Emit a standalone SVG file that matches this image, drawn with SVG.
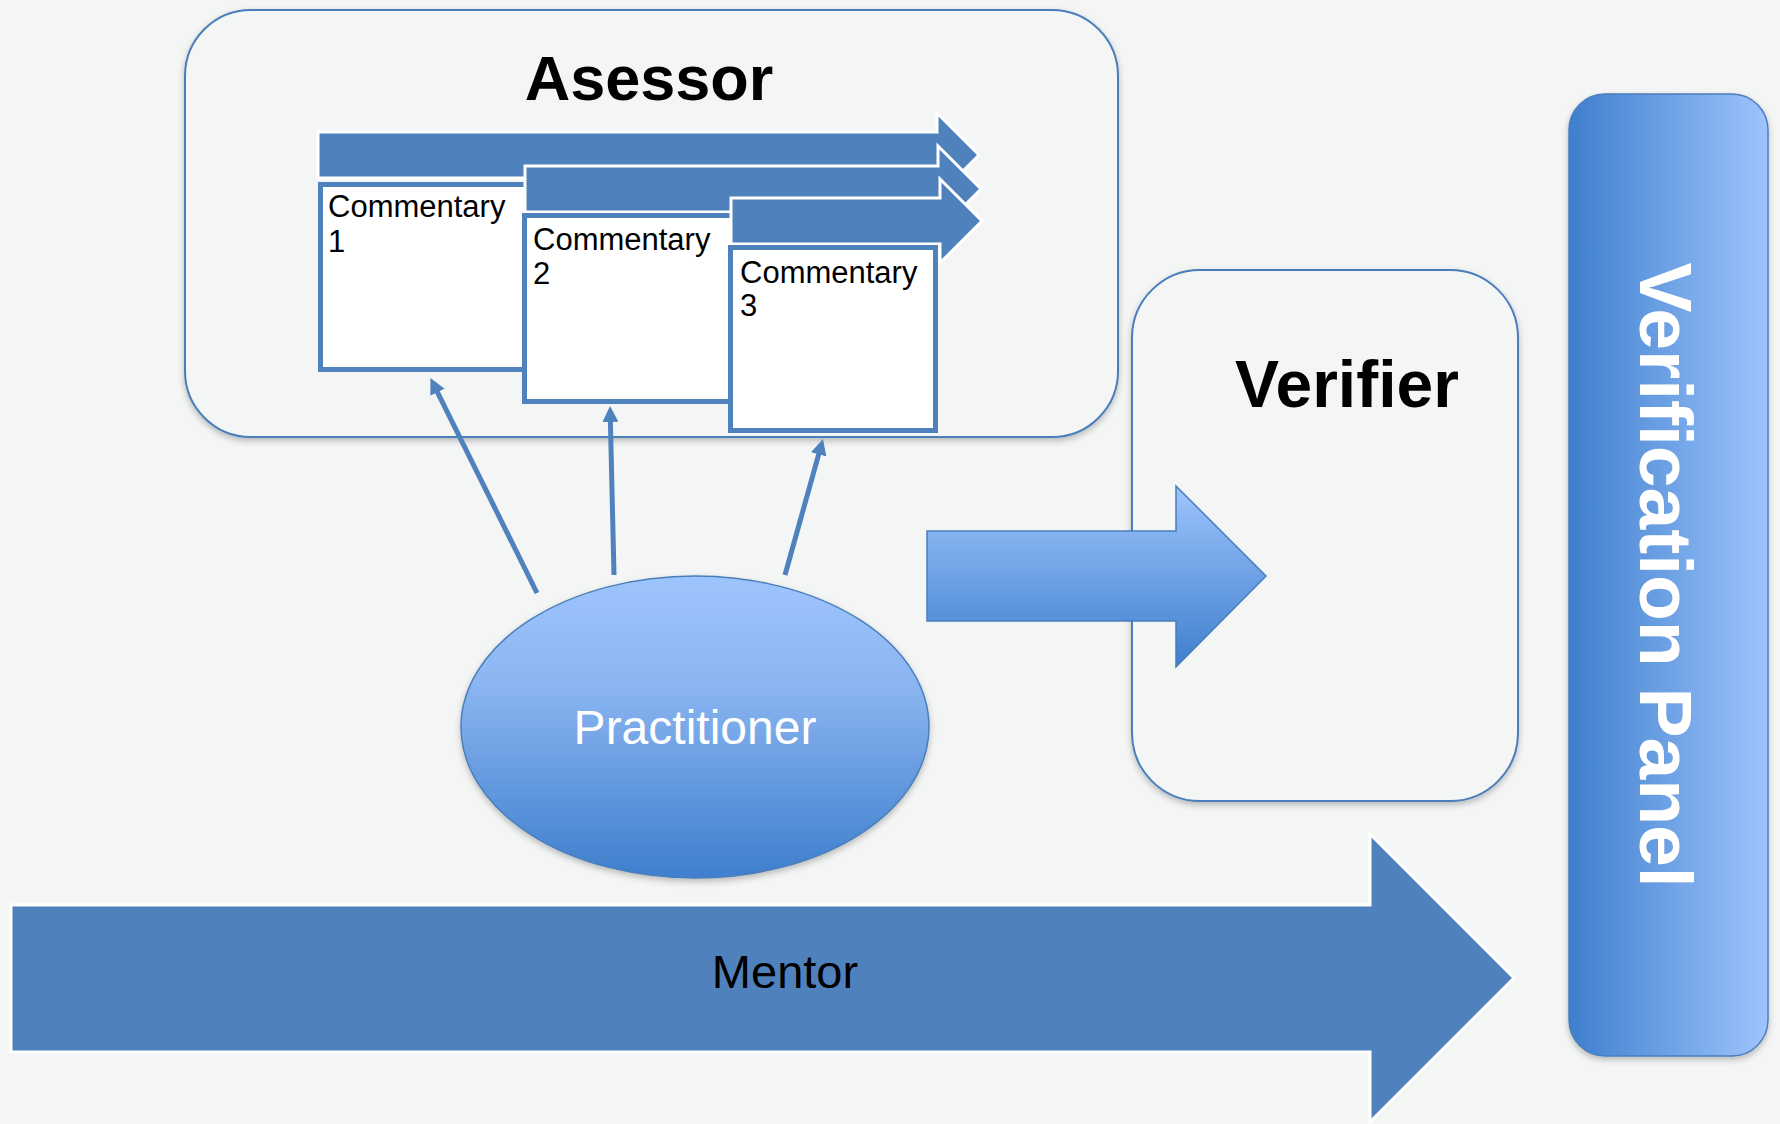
<svg xmlns="http://www.w3.org/2000/svg" width="1780" height="1124" viewBox="0 0 1780 1124">
  <style>
    .frame { fill: #f4f6f5; stroke: #4a7ebb; stroke-width: 2; }
    .band { fill: #4f81bd; stroke: #ffffff; stroke-width: 3; stroke-linejoin: miter; }
    .card { fill: #ffffff; stroke: #4f81bd; stroke-width: 5; }
    .cardtxt { font-family: "Liberation Sans", Arial, sans-serif; font-size: 31px; fill: #000000; }
    .title { font-family: "Liberation Sans", Arial, sans-serif; font-size: 63px; font-weight: bold; fill: #000000; text-anchor: middle; }
    .conn { stroke: #4f81bd; stroke-width: 5; fill: none; }
  </style>
  <defs>
    <linearGradient id="gV" x1="0" y1="0" x2="0" y2="1">
      <stop offset="0" stop-color="#9ec4fd"/>
      <stop offset="0.35" stop-color="#8cb6f2"/>
      <stop offset="1" stop-color="#3e7fcd"/>
    </linearGradient>
    <linearGradient id="gA" x1="0" y1="0" x2="0" y2="1">
      <stop offset="0" stop-color="#9ec4fd"/>
      <stop offset="1" stop-color="#3e7fcd"/>
    </linearGradient>
    <linearGradient id="gH" x1="0" y1="0" x2="1" y2="0">
      <stop offset="0" stop-color="#3e7fcd"/>
      <stop offset="1" stop-color="#9ec4fd"/>
    </linearGradient>
    <filter id="sh" x="-10%" y="-10%" width="120%" height="125%">
      <feDropShadow dx="0" dy="3" stdDeviation="3" flood-color="#000000" flood-opacity="0.25"/>
    </filter>
    <marker id="ah" markerUnits="userSpaceOnUse" markerWidth="16" markerHeight="16" refX="5" refY="8" orient="auto">
      <path d="M0,0 L16,8 L0,16 z" fill="#4f81bd"/>
    </marker>
  </defs>

  <rect x="0" y="0" width="1780" height="1124" fill="#f4f6f5"/>

  <g id="mentor">
    <polygon class="band" stroke-width="5" points="11,905 1370,905 1370,834 1514,978 1370,1122 1370,1052 11,1052"/>
    <text x="785" y="988" font-family="'Liberation Sans', Arial, sans-serif" font-size="47" fill="#000000" text-anchor="middle">Mentor</text>
  </g>

  <g id="asessor">
    <rect class="frame" x="185" y="10" width="933" height="427" rx="66" ry="66" filter="url(#sh)"/>
    <text class="title" x="649" y="100">Asessor</text>
  </g>

  <g id="commentary1">
    <polygon class="band" points="318,132 937,132 937,113 979,155 937,197 937,178 318,178"/>
    <rect class="card" x="320.5" y="184.5" width="212" height="185"/>
    <text class="cardtxt" x="328" y="217">Commentary</text>
    <text class="cardtxt" x="328" y="252">1</text>
  </g>

  <g id="commentary2">
    <polygon class="band" points="525,166 938,166 938,146 981,189 938,232 938,212 525,212"/>
    <rect class="card" x="524.5" y="215.5" width="214" height="186"/>
    <text class="cardtxt" x="533" y="250">Commentary</text>
    <text class="cardtxt" x="533" y="284">2</text>
  </g>

  <g id="commentary3">
    <polygon class="band" points="731,198 940,198 940,179 982,221 940,263 940,244 731,244"/>
    <rect class="card" x="730.5" y="247.5" width="205" height="183"/>
    <text class="cardtxt" x="740" y="283">Commentary</text>
    <text class="cardtxt" x="740" y="316">3</text>
  </g>

  <g id="verifier">
    <rect class="frame" x="1132" y="270" width="386" height="531" rx="68" ry="68" filter="url(#sh)"/>
    <text class="title" x="1347" y="407" font-size="66" style="font-size:66px">Verifier</text>
  </g>

  <g id="to-verifier">
    <polygon points="927,531 1176,531 1176,486 1266,576 1176,667 1176,621 927,621" fill="url(#gA)" stroke="#4a7ebb" stroke-width="1.5"/>
  </g>

  <g id="practitioner">
    <ellipse cx="695" cy="727" rx="234" ry="151" fill="url(#gV)" stroke="#4a7ebb" stroke-width="1.5" filter="url(#sh)"/>
    <text x="695" y="744" font-family="'Liberation Sans', Arial, sans-serif" font-size="48" fill="#ffffff" text-anchor="middle">Practitioner</text>
  </g>

  <g id="verification-panel">
    <rect x="1569" y="94" width="199" height="962" rx="36" ry="36" fill="url(#gH)" stroke="#4a7ebb" stroke-width="1.5" filter="url(#sh)"/>
    <text transform="translate(1640,575) rotate(90)" x="0" y="0" font-family="'Liberation Sans', Arial, sans-serif" font-size="75" font-weight="bold" fill="#ffffff" text-anchor="middle">Verification Panel</text>
  </g>

  <g id="connectors">
    <line class="conn" x1="537" y1="593" x2="435.3" y2="387.8" marker-end="url(#ah)"/>
    <line class="conn" x1="614" y1="575" x2="610.3" y2="417" marker-end="url(#ah)"/>
    <line class="conn" x1="785" y1="575" x2="820" y2="449.6" marker-end="url(#ah)"/>
  </g>
</svg>
